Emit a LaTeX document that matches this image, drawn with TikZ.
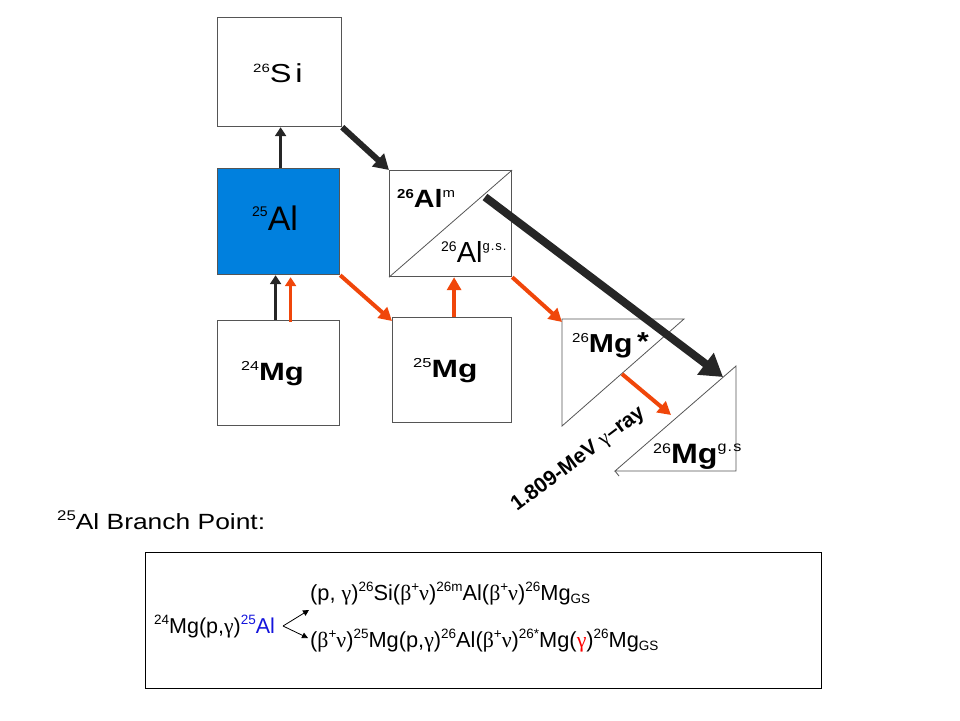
\documentclass[tikz,border=0pt]{standalone}
\usepackage{fontspec}
\setmainfont{Liberation Sans}
\newfontfamily\grk{Liberation Serif}
\usetikzlibrary{arrows.meta}
\definecolor{orng}{RGB}{240,70,10}
\definecolor{alblue}{RGB}{0,128,222}
\definecolor{edge}{RGB}{85,85,85}
\definecolor{lblue}{RGB}{20,20,220}
\newcommand\fs[1]{\fontsize{#1}{#1}\selectfont}
\newcommand\up[3]{\raisebox{#1pt}{\fs{#2}#3}}
\newcommand\gk[1]{{\grk #1}}
\newcommand\bsup[1]{\up{8.5}{13.5}{#1}}
\newcommand\bsub[1]{\up{-3}{13.5}{#1}}
\newcommand\xs[2]{\scalebox{#1}[1]{#2}}
\begin{document}
\begin{tikzpicture}[x=1pt,y=-1pt,
  box/.style={draw=edge, line width=1.2pt, inner sep=0pt, anchor=north west},
  lbl/.style={inner sep=0pt, anchor=base west},
  tri/.style={draw=edge, line width=0.8pt},
  thinblk/.style={draw=black!85, line width=3pt, -{Triangle[length=9pt,width=11pt]}},
  medblk/.style={draw=black!85, line width=6pt, -{Triangle[length=15pt,width=17pt]}},
  bigblk/.style={draw=black!85, line width=8pt, -{Triangle[length=22pt,width=26pt]}},
  orarr/.style={draw=orng, line width=4pt, -{Triangle[length=13pt,width=14pt]}},
  orthin/.style={draw=orng, line width=3pt, -{Triangle[length=9pt,width=11pt]}},
  smallarr/.style={draw=black, line width=0.8pt, -{Triangle[length=6pt,width=6pt]}}
]
\useasboundingbox (0,0) rectangle (960,720);

% boxes
\node[box, minimum width=124pt, minimum height=109pt] (si) at (217,17) {};
\node[box, fill=alblue, minimum width=122pt, minimum height=106pt] (al25) at (217,168) {};
\node[box, minimum width=122pt, minimum height=105pt] (mg24) at (217,320) {};
\node[box, minimum width=119pt, minimum height=105pt] (mg25) at (392,317) {};
\node[box, minimum width=122pt, minimum height=106pt] (al26) at (389,170) {};
\draw[tri] (al26.south west) -- (al26.north east);

% triangles
\coordinate (msA) at (562,319);
\coordinate (msB) at (684,319);
\coordinate (msC) at (562,426);
\draw[tri] (msA) -- (msB) -- (msC) -- cycle;
\coordinate (mgA) at (736,366);
\coordinate (mgB) at (736,471);
\coordinate (mgC) at (615,471);
\coordinate (mgT) at (619,476);
\draw[tri] (mgA) -- (mgB) -- (mgC) -- cycle;
\draw[tri] (mgC) -- (mgT);

% labels
\node[lbl] (lsi) at (253,82) {\xs{1.25}{\up{10}{12}{26}\fs{26}S\hspace{3pt}i}};
\node[lbl] (lal25) at (252,230) {\up{14}{14}{25}\fs{34}Al};
\node[lbl] (lalm) at (397,207) {\xs{1.15}{\up{9}{13}{\bfseries 26}\fs{25}\bfseries Al\up{10}{13}{\mdseries m}}};
\node[lbl] (lalg) at (441,262) {\up{11}{14}{26}\fs{29}Al\up{12}{13}{g\hspace{1pt}.\hspace{1pt}s\hspace{1pt}.}};
\node[lbl] (lmg24) at (241,380) {\xs{1.24}{\up{10}{13}{24}\fs{25}\bfseries Mg}};
\node[lbl] (lmg25) at (413,377) {\xs{1.27}{\up{10}{13}{25}\fs{25}\bfseries Mg}};
\node[lbl] (lmgs) at (572,352) {\xs{1.16}{\up{10}{13}{26}\fs{26}\bfseries Mg\hspace{4pt}\up{2}{26}{*}}};
\node[lbl] (lmgg) at (653,463) {\xs{1.15}{\up{10}{14}{26}\fs{28}\bfseries Mg\up{12}{14}{\mdseries g\hspace{1pt}.\hspace{1pt}s}}};
\node[lbl, rotate=37] (gray) at (517,512) {\fs{21}\bfseries 1.809-MeV \gk{\mdseries γ}–ray};

% arrows
\draw[thinblk] ([xshift=2pt]al25.north) -- ([xshift=2pt]al25.north |- si.south);
\draw[medblk] (si.south east) -- (al26.north west);
\coordinate (alm) at (485,197);
\coordinate (mgTip) at (723,377);
\draw[bigblk] (alm) -- (mgTip);
\draw[thinblk] ([xshift=-3pt]mg24.north) -- ([xshift=-3pt]mg24.north |- al25.south);
\draw[orthin] ([xshift=12pt,yshift=-2pt]mg24.north) -- ([xshift=12pt,yshift=-2pt]mg24.north |- al25.south);
\draw[orarr] (al25.south east) -- ([yshift=-4pt]mg25.north west);
\draw[orarr] ([xshift=2pt]mg25.north) -- ([xshift=2pt]mg25.north |- al26.south);
\draw[orarr] (al26.south east) -- ([yshift=-3pt]msA);
\coordinate (gs) at (622,374);
\coordinate (ge) at (671,415);
\draw[orarr] (gs) -- (ge);

% branch point
\node[lbl] (bp) at (57,529) {\xs{1.2}{\fs{22}\up{8.5}{14}{25}Al Branch Point:}};
\node[draw=black, line width=1pt, minimum width=676pt, minimum height=136pt, inner sep=0pt, anchor=north west] (frame) at (145,552) {};
\node[lbl] (left) at (154,633) {\fs{21.5}\bsup{24}Mg(p,\gk{γ})\textcolor{lblue}{\bsup{25}Al}};
\node[lbl] (top) at (310,600) {\fs{21.8}(p, \gk{γ})\bsup{26}Si(\gk{β}\bsup{+}\gk{ν})\bsup{26m}Al(\gk{β}\bsup{+}\gk{ν})\bsup{26}Mg\bsub{GS}};
\node[lbl] (bot) at (310,647) {\fs{21.8}(\gk{β}\bsup{+}\gk{ν})\bsup{25}Mg(p,\gk{γ})\bsup{26}Al(\gk{β}\bsup{+}\gk{ν})\bsup{26*}Mg(\textcolor{red}{\gk{γ}})\bsup{26}Mg\bsub{GS}};
\coordinate (fork) at (283,626);
\coordinate (ftop) at (309,610);
\coordinate (fbot) at (308,638);
\draw[smallarr] (fork) -- (ftop);
\draw[smallarr] (fork) -- (fbot);
\end{tikzpicture}
\end{document}
